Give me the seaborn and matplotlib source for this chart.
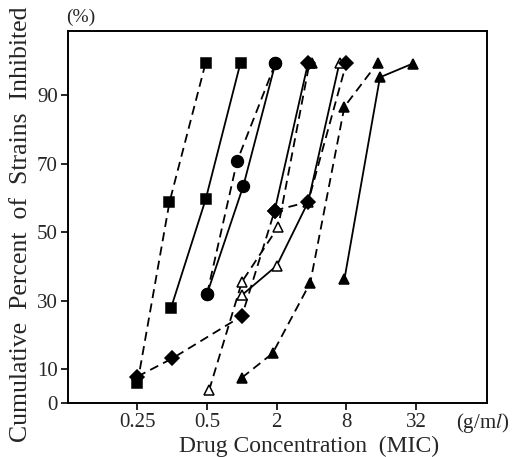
import matplotlib
matplotlib.use("Agg")
import matplotlib.pyplot as plt
import seaborn as sns

# x is in axis steps: 1 = 0.25, 2 = 0.5, 3 = 2, 4 = 8, 5 = 32 (half steps in between)
x_ticks = [1, 2, 3, 4, 5]
x_tick_labels = ["0.25", "0.5", "2", "8", "32"]
y_ticks = [0, 10, 30, 50, 70, 90]

sq_dash_x = [1.0, 1.46, 1.98]
sq_dash_y = [5.8, 58.7, 99.5]
sq_solid_x = [1.48, 1.98, 2.48]
sq_solid_y = [27.7, 59.6, 99.5]
circ_dash_x = [2.0, 2.43, 2.98]
circ_dash_y = [32.0, 70.7, 99.3]
circ_solid_x = [2.0, 2.52, 2.98]
circ_solid_y = [32.0, 63.5, 99.3]
dia_dash_x = [1.0, 1.5, 2.5, 2.97, 3.45, 4.0]
dia_dash_y = [7.8, 13.1, 25.5, 56.3, 58.8, 99.5]
dia_solid_x = [2.97, 3.45]
dia_solid_y = [56.3, 99.5]
open_dash_x = [2.03, 2.5, 3.02, 3.47]
open_dash_y = [3.9, 35.5, 51.5, 99.5]
open_solid_x = [2.5, 3.0, 3.45, 3.9]
open_solid_y = [31.6, 40.2, 58.8, 99.5]
tri_dash_x = [2.5, 2.94, 3.48, 3.97, 4.45]
tri_dash_y = [7.5, 14.6, 35.2, 86.6, 99.5]
tri_solid_x = [3.97, 4.48, 4.95]
tri_solid_y = [36.2, 95.2, 99.2]
tri_top_x = [3.5]
tri_top_y = [99.5]

sns.set_style("ticks")
plt.rcParams["font.family"] = ["Liberation Serif", "DejaVu Serif"]
plt.rcParams["mathtext.fontset"] = "stix"

fig = plt.figure(figsize=(5.22, 4.57), dpi=100)
ax = fig.add_axes([0.1297, 0.1175, 0.8038, 0.8145])

dash = (0, (5, 3))
series = [
    (open_dash_x, open_dash_y, "^", "white", dash, 6.5),
    (open_solid_x, open_solid_y, "^", "white", "-", 6.5),
    (sq_dash_x, sq_dash_y, "s", "black", dash, 7.5),
    (sq_solid_x, sq_solid_y, "s", "black", "-", 7.5),
    (circ_dash_x, circ_dash_y, "o", "black", dash, 8.5),
    (circ_solid_x, circ_solid_y, "o", "black", "-", 8.5),
    (dia_dash_x, dia_dash_y, "D", "black", dash, 7),
    (dia_solid_x, dia_solid_y, "D", "black", "-", 7),
    (tri_dash_x, tri_dash_y, "^", "black", dash, 7),
    (tri_solid_x, tri_solid_y, "^", "black", "-", 7),
    (tri_top_x, tri_top_y, "^", "black", "-", 7),
]
for xs, ys, mk, fc, ls, ms in series:
    sns.lineplot(x=xs, y=ys, ax=ax, sort=False, estimator=None, color="black",
                 linestyle=ls, linewidth=1.3, marker=mk, markersize=ms,
                 markerfacecolor=fc, markeredgecolor="black", markeredgewidth=1.1)

ax.set_xlim(0, 6.02)
ax.set_ylim(0, 108.7)
ax.set_xticks(x_ticks)
ax.set_xticklabels(x_tick_labels)
ax.set_yticks(y_ticks)
ax.tick_params(direction="out", length=5, width=1.2, labelsize=15, color="black", pad=2)
for s in ax.spines.values():
    s.set_linewidth(1.4)
    s.set_color("black")
    s.set_visible(True)

ax.set_xlabel("Drug Concentration  (MIC)", fontsize=17)
ax.xaxis.set_label_coords(0.576, -0.086)
ax.set_ylabel("Cumulative  Percent  of  Strains  Inhibited", fontsize=18.5)
ax.yaxis.set_label_coords(-0.085, 0.48)
fig.text(0.127, 0.963, "(%)", fontsize=14, ha="left", va="center")
fig.text(0.975, 0.075, "(g/m$l$)", fontsize=15, ha="right", va="center")

fig.savefig("out.png", dpi=100)
